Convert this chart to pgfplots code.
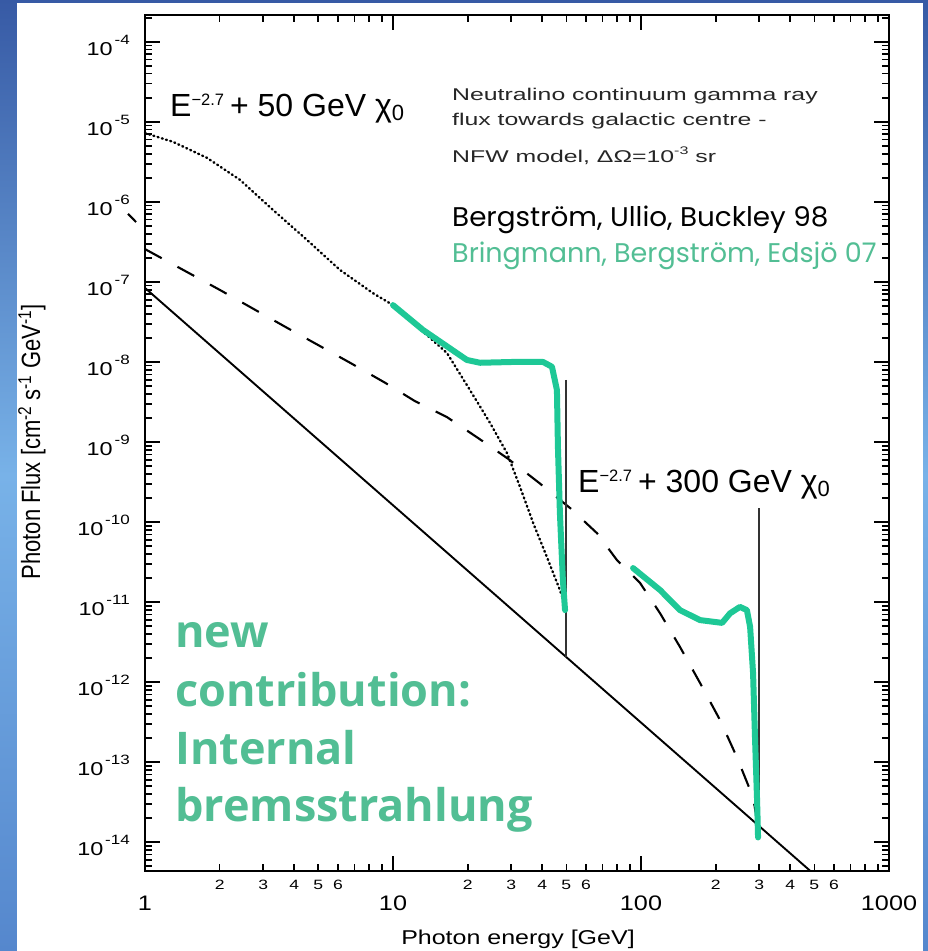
\documentclass[border=0pt]{standalone}
\usepackage{fontspec}
\setmainfont{Liberation Sans}
\newfontfamily\popfont{Poppins}
\newfontfamily\osfont{Open Sans}
\usepackage{graphicx}
\usepackage{pgfplots}
\pgfplotsset{compat=1.18}
\definecolor{ibgreen}{RGB}{30,200,150}
\definecolor{txtgreen}{RGB}{82,190,148}
\definecolor{slideTop}{RGB}{55,90,165}
\definecolor{slideMid}{RGB}{120,178,232}
\definecolor{slideBot}{RGB}{85,135,205}
\newcommand{\xl}[1]{\scalebox{1.2}[1]{\fontsize{21}{21}\selectfont #1}}
\newcommand{\xm}[1]{\scalebox{1.3}[1]{\fontsize{13.5}{13.5}\selectfont #1}}
\newcommand{\yl}[1]{\scalebox{1.26}[1]{\fontsize{18.6}{19}\selectfont 10\hspace{1.5pt}\raisebox{11pt}{\fontsize{13.5}{13.5}\selectfont #1}}}
\newcommand{\ann}[1]{\fontsize{32}{32}\selectfont E\raisebox{11.5pt}{\fontsize{16.5}{16.5}\selectfont −2.7}\hspace{6pt}+ #1 GeV χ\raisebox{-4pt}{\fontsize{22}{22}\selectfont 0}}
\begin{document}
\begin{tikzpicture}[x=1pt,y=1pt]
\shade[top color=slideTop, bottom color=slideBot, middle color=slideMid] (0,0) rectangle (928,951);
\fill[white] (17,0) rectangle (923,948);
\begin{axis}[
  at={(145pt,80pt)}, anchor=south west,
  scale only axis, width=744pt, height=856pt,
  xmode=log, ymode=log,
  xmin=1, xmax=1000, ymin=4.37e-15, ymax=2.16e-4,
  clip=false,
  axis line style={line width=2.6pt},
  tick style={black, line width=1.7pt},
  major tick length=15pt, minor tick length=7.5pt,
  tick align=inside,
  xtick={1,10,100,1000},
  xticklabels={\xl{1},\xl{10},\xl{100},\xl{1000}},
  xticklabel style={anchor=center, inner sep=0pt, yshift=-32.5pt},
  minor xtick={2,3,4,5,6,7,8,9,20,30,40,50,60,70,80,90,200,300,400,500,600,700,800,900},
  extra x ticks={2,3,4,5,6,20,30,40,50,60,200,300,400,500,600},
  extra x tick labels={\xm{2},\xm{3},\xm{4},\xm{5},\xm{6},\xm{2},\xm{3},\xm{4},\xm{5},\xm{6},\xm{2},\xm{3},\xm{4},\xm{5},\xm{6}},
  extra x tick style={major tick length=7.5pt, xticklabel style={yshift=18.5pt}},
  ytick={1e-14,1e-13,1e-12,1e-11,1e-10,1e-9,1e-8,1e-7,1e-6,1e-5,1e-4},
  yticklabels={\yl{-14},\yl{-13},\yl{-12},\yl{-11},\yl{-10},\yl{-9},\yl{-8},\yl{-7},\yl{-6},\yl{-5},\yl{-4}},
  yticklabel style={anchor=base east, inner sep=0pt, xshift=-15pt, yshift=-13.5pt},
  minor ytick={5e-15,6e-15,7e-15,8e-15,9e-15,
    2e-14,3e-14,4e-14,5e-14,6e-14,7e-14,8e-14,9e-14,
    2e-13,3e-13,4e-13,5e-13,6e-13,7e-13,8e-13,9e-13,
    2e-12,3e-12,4e-12,5e-12,6e-12,7e-12,8e-12,9e-12,
    2e-11,3e-11,4e-11,5e-11,6e-11,7e-11,8e-11,9e-11,
    2e-10,3e-10,4e-10,5e-10,6e-10,7e-10,8e-10,9e-10,
    2e-9,3e-9,4e-9,5e-9,6e-9,7e-9,8e-9,9e-9,
    2e-8,3e-8,4e-8,5e-8,6e-8,7e-8,8e-8,9e-8,
    2e-7,3e-7,4e-7,5e-7,6e-7,7e-7,8e-7,9e-7,
    2e-6,3e-6,4e-6,5e-6,6e-6,7e-6,8e-6,9e-6,
    2e-5,3e-5,4e-5,5e-5,6e-5,7e-5,8e-5,9e-5,
    2e-4},
]
% E^-2.7 + 300 GeV continuum (dashed)
\addplot[black, line width=2.1pt, dash pattern=on 19pt off 18pt] coordinates {
(1.0,2.57e-7) (2.004,7.94e-8) (3.673,2.754e-8) (6.714,9.77e-9) (9.29,5.50e-9)
(12.27,3.236e-9) (16.52,2.042e-9) (22.03,1.122e-9) (29.11,6.17e-10) (38.82,3.09e-10)
(51.76,1.496e-10) (66.53,7.24e-11) (79.98,3.35e-11) (99.08,1.738e-11) (119.4,7.24e-12)
(143.6,2.754e-12) (173.0,9.77e-13) (208.4,3.35e-13) (243.8,1.148e-13) (283.1,3.63e-14)
(296.5,1.585e-14)};
\addplot[black, line width=2.1pt] coordinates {(0.854,7.08e-7) (0.920,5.60e-7)};
% E^-2.7 + 50 GeV continuum (dotted)
\addplot[black, line width=2.4pt, line cap=round, dash pattern=on 1pt off 3.4pt] coordinates {
(1.0,7.24e-6) (1.297,5.62e-6) (1.778,3.55e-6) (2.415,1.884e-6) (3.281,7.94e-7)
(4.498,3.35e-7) (6.109,1.413e-7) (8.299,7.24e-8) (10.0,5.13e-8) (12.05,3.09e-8)
(16.52,1.288e-8) (20.42,4.47e-9) (24.60,1.738e-9) (28.84,7.24e-10) (32.51,2.754e-10)
(36.73,9.77e-11) (41.78,3.63e-11) (47.10,1.413e-11) (49.43,9.12e-12)};
% E^-2.7 background (solid)
\addplot[black, line width=1.9pt] coordinates {(1,8.41e-8) (482,4.37e-15)};
% lines
\addplot[black!80, line width=2pt] coordinates {(50,5.96e-9) (50,2.05e-12)};
\addplot[black!80, line width=2pt] coordinates {(300,1.496e-10) (300,1.585e-14)};
% internal bremsstrahlung
\addplot[ibgreen, line width=6pt, line cap=round, line join=round] coordinates {
(10.0,5.13e-8) (13.21,2.512e-8) (19.86,1.059e-8) (22.44,9.77e-9) (30.48,1.0e-8)
(40.27,1.0e-8) (43.75,8.71e-9) (45.81,4.47e-9) (46.24,8.71e-10) (47.10,1.288e-10)
(48.42,1.884e-11) (49.4,7.94e-12)};
\addplot[ibgreen, line width=6pt, line cap=round, line join=round] coordinates {
(92.9,2.66e-11) (119.4,1.413e-11) (143.6,7.94e-12) (173.0,5.96e-12) (212.3,5.50e-12)
(228.6,7.24e-12) (250.6,8.71e-12) (267.3,7.94e-12) (275.4,4.90e-12) (283.1,1.288e-12)
(288.4,1.884e-13) (293.8,3.35e-14) (296.5,1.148e-14)};
\end{axis}
% axis titles
\node[anchor=base, inner sep=0pt] at (518,6) {\scalebox{1.25}[1]{\fontsize{20}{20}\selectfont Photon energy [GeV]}};
\node[rotate=90, inner sep=0pt] at (32,509) {\scalebox{1}[1.2]{\fontsize{22}{22}\selectfont Photon Flux [cm\textsuperscript{-2} s\textsuperscript{-1} GeV\textsuperscript{-1}]}};
% annotations
\node[anchor=base west, inner sep=0pt] at (170,834) {\ann{50}};
\node[anchor=base west, inner sep=0pt] at (578,458) {\ann{300}};
\node[anchor=base west, inner sep=0pt, text=black!85] at (452,850) {\scalebox{1.46}[1]{\fontsize{17}{17}\selectfont Neutralino continuum gamma ray}};
\node[anchor=base west, inner sep=0pt, text=black!85] at (452,825) {\scalebox{1.46}[1]{\fontsize{17}{17}\selectfont flux towards galactic centre -}};
\node[anchor=base west, inner sep=0pt, text=black!85] at (452,788) {\scalebox{1.46}[1]{\fontsize{17}{17}\selectfont NFW model, ΔΩ=10\raisebox{8pt}{\fontsize{11}{11}\selectfont -3} sr}};
\node[anchor=base west, inner sep=0pt] at (452,724) {\scalebox{1.03}[1]{\popfont\fontsize{27}{27}\selectfont Bergström, Ullio, Buckley 98}};
\node[anchor=base west, inner sep=0pt, text=txtgreen] at (452,688) {\scalebox{1.0}[1]{\popfont\fontsize{27}{27}\selectfont Bringmann, Bergström, Edsjö 07}};
\node[anchor=base west, inner sep=0pt, text=txtgreen] at (175,303) {\osfont\bfseries\fontsize{45}{45}\selectfont new};
\node[anchor=base west, inner sep=0pt, text=txtgreen] at (175,244) {\osfont\bfseries\fontsize{45}{45}\selectfont contribution:};
\node[anchor=base west, inner sep=0pt, text=txtgreen] at (175,186) {\osfont\bfseries\fontsize{45}{45}\selectfont Internal};
\node[anchor=base west, inner sep=0pt, text=txtgreen] at (175,129) {\osfont\bfseries\fontsize{45}{45}\selectfont bremsstrahlung};
\pgfresetboundingbox
\path (0,0) rectangle (928,951);
\end{tikzpicture}
\end{document}
